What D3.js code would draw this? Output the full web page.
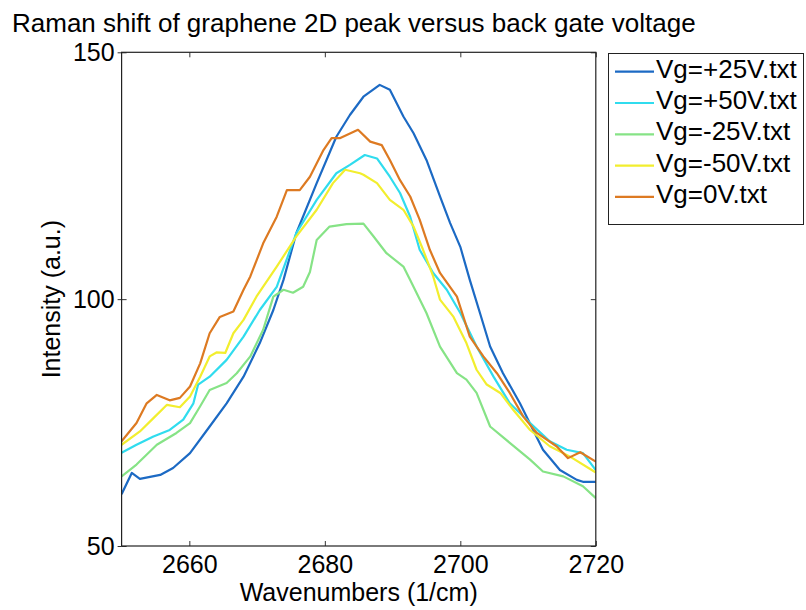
<!DOCTYPE html>
<html><head><meta charset="utf-8">
<script src="https://cdn.jsdelivr.net/npm/d3@7"></script>
<style>
body{margin:0;background:#fff}
svg{display:block}
text{font-family:"Liberation Sans",Arial,Helvetica,sans-serif;fill:#000}
</style>
</head><body>
<svg id="chart" width="806" height="610"></svg>
<script>
// ---- data ----
const titleText = "Raman shift of graphene 2D peak versus back gate voltage";
const xLabel = "Wavenumbers (1/cm)";
const yLabel = "Intensity (a.u.)";
const xDomain = [2650, 2720];
const yDomain = [50, 150];
const xTicks = [2660, 2680, 2700, 2720];
const yTicks = [50, 100, 150];

const seriesNames = ["Vg=+25V.txt", "Vg=+50V.txt", "Vg=-25V.txt", "Vg=-50V.txt", "Vg=0V.txt"];
const seriesColors = ["#1c6ac4", "#30dcee", "#86e386", "#f2ee2e", "#dd7a22"];

const wnP25 = [2650.0,2651.5,2652.7,2655.7,2657.6,2660.1,2663.0,2665.5,2668.0,2670.4,2672.4,2673.9,2675.8,2678.8,2681.7,2683.7,2685.7,2688.1,2689.6,2691.6,2693.1,2695.0,2697.0,2698.5,2700.0,2701.4,2702.9,2704.4,2706.3,2708.8,2710.5,2712.2,2714.7,2717.2,2718.1,2720.0];
const intP25 = [60.5,64.8,63.6,64.4,65.8,68.8,74.2,78.9,84.3,91.1,97.8,103.9,113.4,123.5,132.9,137.3,141.0,143.4,142.4,137.0,133.6,128.2,120.8,115.4,110.6,103.9,97.2,90.4,85.0,78.9,74.2,69.5,65.4,63.4,63.0,63.0];

const wnP50 = [2650.0,2652.2,2654.7,2657.1,2659.1,2660.6,2661.3,2663.0,2665.5,2668.0,2670.4,2672.9,2675.8,2678.8,2681.7,2683.7,2685.9,2687.7,2689.6,2691.1,2692.6,2694.0,2696.0,2698.0,2700.0,2702.4,2704.9,2707.3,2710.3,2713.2,2715.7,2718.1,2720.0];
const intP50 = [68.9,70.5,72.2,73.5,75.6,78.9,82.7,84.3,87.7,92.4,97.8,102.5,113.4,120.1,125.5,127.2,129.2,128.5,124.8,121.5,116.7,110.0,105.3,101.9,97.2,90.4,84.3,78.9,74.9,71.2,69.5,68.8,65.4];

const wnM25 = [2650.0,2652.2,2655.2,2658.1,2660.1,2661.6,2663.0,2665.5,2667.0,2669.0,2670.9,2672.4,2673.9,2675.3,2676.8,2677.8,2678.8,2680.7,2683.2,2685.7,2687.2,2689.1,2691.6,2692.6,2695.0,2697.0,2699.5,2700.9,2702.4,2704.4,2707.3,2710.3,2712.2,2715.2,2718.1,2720.0];
const intM25 = [64.1,66.5,70.5,72.9,74.9,78.3,81.6,83.0,85.0,88.4,93.8,100.5,101.9,101.3,102.5,105.5,112.0,114.7,115.2,115.3,112.7,109.3,106.6,103.9,97.2,90.4,85.0,83.7,81.0,74.2,70.9,67.5,65.1,64.1,62.1,59.7];

const wnM50 = [2650.0,2652.7,2654.7,2656.7,2658.6,2660.1,2661.6,2663.0,2664.0,2665.3,2666.5,2668.0,2669.9,2672.9,2675.8,2678.8,2681.2,2683.0,2685.2,2685.7,2687.7,2689.6,2691.6,2693.1,2694.5,2696.0,2697.0,2699.0,2700.9,2702.4,2703.9,2705.9,2707.8,2710.3,2713.2,2716.2,2720.0];
const intM50 = [70.5,73.2,75.9,78.6,78.1,80.3,84.3,88.4,89.2,89.1,93.1,95.8,100.5,106.6,112.7,118.1,123.5,126.2,125.5,125.2,123.5,120.1,118.1,114.7,110.0,104.6,99.9,96.4,91.1,85.7,82.7,81.0,77.6,73.5,70.2,68.1,64.9];

const wn0 = [2650.0,2652.2,2653.7,2655.2,2657.1,2658.6,2660.1,2661.6,2663.0,2664.5,2666.5,2668.0,2669.0,2670.9,2672.9,2674.4,2676.3,2677.8,2679.8,2681.0,2682.2,2684.9,2686.7,2688.4,2689.6,2691.1,2692.6,2694.0,2695.5,2697.0,2699.5,2701.4,2703.4,2705.4,2707.3,2709.3,2711.3,2714.2,2715.9,2717.7,2720.0];
const int0 = [71.2,74.9,78.9,80.6,79.5,80.0,82.3,87.0,93.1,96.4,97.5,101.9,104.6,111.3,116.7,122.1,122.1,124.8,130.2,132.6,132.6,134.3,131.9,131.2,128.2,124.1,120.8,116.1,110.0,105.3,100.5,92.4,88.4,85.0,81.0,76.2,72.9,70.2,67.8,69.0,67.1];

const seriesX = [wnP25, wnP50, wnM25, wnM50, wn0];
const seriesY = [intP25, intP50, intM25, intM50, int0];

// ---- drawing ----
const svg = d3.select("#chart");
const L = 121.6, R = 595.8, T = 52.3, B = 546;
const x = d3.scaleLinear().domain(xDomain).range([L, R]);
const y = d3.scaleLinear().domain(yDomain).range([B, T]);

svg.append("rect").attr("width", 806).attr("height", 610).attr("fill", "#fff");

// title
svg.append("text").attr("x", 12).attr("y", 32).attr("font-size", 26).text(titleText);

// lines
const line = d3.line().x(d => x(d[0])).y(d => y(d[1]));
svg.append("clipPath").attr("id", "clip").append("rect")
  .attr("x", L).attr("y", T).attr("width", R - L).attr("height", B - T);
const gLines = svg.append("g").attr("clip-path", "url(#clip)");
seriesNames.forEach((name, i) => {
  const pts = seriesX[i].map((v, k) => [v, seriesY[i][k]]);
  gLines.append("path").datum(pts)
    .attr("d", line)
    .attr("fill", "none")
    .attr("stroke", seriesColors[i])
    .attr("stroke-width", 2.2)
    .attr("stroke-linejoin", "round");
});

// axes (ticks point inward, MATLAB style)
const axB = svg.append("g").attr("transform", `translate(0,${B})`)
  .call(d3.axisBottom(x).tickValues(xTicks).tickSize(-5).tickSizeOuter(0).tickPadding(9.5).tickFormat(d3.format("d")));
const axT = svg.append("g").attr("transform", `translate(0,${T})`)
  .call(d3.axisTop(x).tickValues(xTicks).tickSize(-5).tickSizeOuter(0).tickFormat(""));
const axL = svg.append("g").attr("transform", `translate(${L},0)`)
  .call(d3.axisLeft(y).tickValues(yTicks).tickSize(-5).tickSizeOuter(0).tickPadding(7).tickFormat(d3.format("d")));
const axR = svg.append("g").attr("transform", `translate(${R},0)`)
  .call(d3.axisRight(y).tickValues(yTicks).tickSize(-5).tickSizeOuter(0).tickFormat(""));
[axB, axT, axL, axR].forEach(g => {
  g.selectAll(".domain").remove();
  g.selectAll("line").attr("stroke", "#333").attr("stroke-width", 1);
  g.selectAll("text").attr("font-size", 25).attr("font-family", '"Liberation Sans",Arial,sans-serif').attr("fill", "#000");
});
// small outward stubs on the left axis at each y tick
axL.selectAll(".tick").append("line").attr("x1", -4).attr("x2", 0)
  .attr("stroke", "#333").attr("stroke-width", 1);

svg.append("rect").attr("x", L).attr("y", T).attr("width", R - L).attr("height", B - T)
  .attr("fill", "none").attr("stroke", "#222").attr("stroke-width", 1.2);

// axis labels
svg.append("text").attr("x", (L + R) / 2).attr("y", 601).attr("text-anchor", "middle")
  .attr("font-size", 25).text(xLabel);
svg.append("text").attr("transform", `translate(60,${(T + B) / 2}) rotate(-90)`)
  .attr("text-anchor", "middle").attr("font-size", 25).text(yLabel);

// legend
const lg = svg.append("g");
lg.append("rect").attr("x", 608.5).attr("y", 53.5).attr("width", 195).attr("height", 171)
  .attr("fill", "#fff").attr("stroke", "#222").attr("stroke-width", 1);
seriesNames.forEach((name, i) => {
  const yy = 71.7 + i * 31.3;
  lg.append("line").attr("x1", 615).attr("x2", 654).attr("y1", yy).attr("y2", yy)
    .attr("stroke", seriesColors[i]).attr("stroke-width", 2.2);
  lg.append("text").attr("x", 656).attr("y", yy + 6).attr("font-size", 26).text(name);
});
</script>
</body></html>
